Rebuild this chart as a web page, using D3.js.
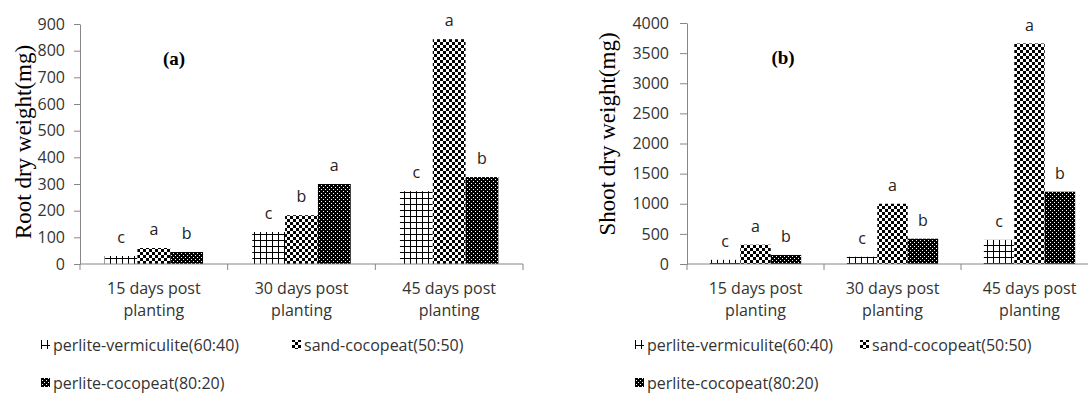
<!DOCTYPE html>
<html>
<head>
<meta charset="utf-8">
<script src="https://cdn.jsdelivr.net/npm/d3@7"></script>
<style>
  body { margin: 0; background: #fff; }
  svg { display: block; overflow: hidden; }
</style>
</head>
<body>
<svg id="chart" width="1088" height="395" font-family="'Open Sans', sans-serif"></svg>
<script>
const categories = ['15 days post|planting', '30 days post|planting', '45 days post|planting'];
const series = ['perlite-vermiculite(60:40)', 'sand-cocopeat(50:50)', 'perlite-cocopeat(80:20)'];

// values per series, one per category
const rootValues = [[30, 120, 273], [60, 183, 843], [45, 300, 326]];
const rootLetters = [['c', 'c', 'c'], ['a', 'b', 'a'], ['b', 'a', 'b']];
const rootTicks = [0, 100, 200, 300, 400, 500, 600, 700, 800, 900];

const shootValues = [[70, 120, 400], [320, 1000, 3660], [150, 420, 1200]];
const shootLetters = [['c', 'c', 'c'], ['a', 'a', 'a'], ['b', 'b', 'b']];
const shootTicks = [0, 500, 1000, 1500, 2000, 2500, 3000, 3500, 4000];

const serif = "'Liberation Serif', 'Times New Roman', serif";
const sans = "'Open Sans', sans-serif";

const svg = d3.select('#chart');
const defs = svg.append('defs');

// grid pattern
const pGrid = defs.append('pattern').attr('id', 'pat0')
    .attr('patternUnits', 'userSpaceOnUse').attr('width', 6).attr('height', 6);
pGrid.append('rect').attr('width', 6).attr('height', 6).attr('fill', '#fff');
pGrid.append('rect').attr('x', 0).attr('y', 0).attr('width', 1).attr('height', 6).attr('fill', '#000');
pGrid.append('rect').attr('x', 0).attr('y', 0).attr('width', 6).attr('height', 1).attr('fill', '#000');

// checkerboard pattern
const pCheck = defs.append('pattern').attr('id', 'pat1')
    .attr('patternUnits', 'userSpaceOnUse').attr('width', 6).attr('height', 6);
pCheck.append('rect').attr('width', 6).attr('height', 6).attr('fill', '#fff');
pCheck.append('rect').attr('x', 0).attr('y', 0).attr('width', 3).attr('height', 3).attr('fill', '#000');
pCheck.append('rect').attr('x', 3).attr('y', 3).attr('width', 3).attr('height', 3).attr('fill', '#000');

// dark dotted pattern
const pDot = defs.append('pattern').attr('id', 'pat2')
    .attr('patternUnits', 'userSpaceOnUse').attr('width', 4).attr('height', 4);
pDot.append('rect').attr('width', 4).attr('height', 4).attr('fill', '#000');
pDot.append('rect').attr('x', 1).attr('y', 1).attr('width', 1).attr('height', 1).attr('fill', '#fff');
pDot.append('rect').attr('x', 3).attr('y', 3).attr('width', 1).attr('height', 1).attr('fill', '#fff');

const fills = ['url(#pat0)', 'url(#pat1)', 'url(#pat2)'];

function drawPanel(opts) {
    const g = svg.append('g').attr('transform', `translate(${opts.left},${opts.top})`);
    const w = opts.width, h = opts.height;

    const x = d3.scaleBand().domain(categories).range([0, w])
        .paddingInner(1 / 3).paddingOuter(1 / 6);
    const x1 = d3.scaleBand().domain(d3.range(series.length)).range([0, x.bandwidth()]);
    const y = d3.scaleLinear().domain([0, opts.max]).range([h, 0]);

    // bars + letters
    series.forEach((s, si) => {
        g.selectAll(null)
            .data(opts.values[si])
            .join('rect')
                .attr('x', (d, i) => x(categories[i]) + x1(si))
                .attr('y', d => y(d))
                .attr('width', x1.bandwidth())
                .attr('height', d => h - y(d))
                .attr('fill', fills[si]);

        g.selectAll(null)
            .data(opts.values[si])
            .join('text')
                .attr('x', (d, i) => x(categories[i]) + x1(si) + x1.bandwidth() / 2)
                .attr('y', d => y(d) - 13)
                .attr('text-anchor', 'middle')
                .attr('font-size', 16)
                .attr('fill', '#222')
                .text((d, i) => opts.letters[si][i]);
    });

    // y axis
    const yAxis = g.append('g')
        .call(d3.axisLeft(y).tickValues(opts.ticks).tickFormat(d3.format('d'))
            .tickSize(opts.tickSize).tickPadding(opts.tickPad).tickSizeOuter(0));
    yAxis.select('.domain').attr('stroke', '#868686');
    yAxis.selectAll('.tick line').attr('stroke', '#868686');
    yAxis.selectAll('.tick text').attr('font-size', 16).attr('fill', '#333')
        .attr('font-family', sans);

    // x axis line and boundary ticks
    g.append('line').attr('x1', 0).attr('x2', w).attr('y1', h).attr('y2', h)
        .attr('stroke', '#868686');
    g.selectAll(null)
        .data(d3.range(categories.length + 1))
        .join('line')
            .attr('x1', i => i * x.step()).attr('x2', i => i * x.step())
            .attr('y1', h).attr('y2', h + 6)
            .attr('stroke', '#868686');

    const catText = g.selectAll(null)
        .data(categories)
        .join('text')
            .attr('text-anchor', 'middle')
            .attr('font-size', 16)
            .attr('fill', '#333');
    catText.each(function (d) {
        const lines = d.split('|');
        const cx = x(d) + x.bandwidth() / 2;
        lines.forEach((ln, li) => {
            d3.select(this).append('tspan')
                .attr('x', cx)
                .attr('y', h + 30 + li * 22)
                .text(ln);
        });
    });

    // y title
    g.append('text')
        .attr('transform', `translate(${opts.titleX},${opts.titleY}) rotate(-90)`)
        .attr('text-anchor', 'middle')
        .attr('dominant-baseline', 'central')
        .attr('font-family', serif)
        .attr('font-size', 23)
        .attr('fill', '#000')
        .text(opts.yTitle);

    // panel letter
    g.append('text')
        .attr('x', opts.tagX).attr('y', 34)
        .attr('text-anchor', 'middle')
        .attr('dominant-baseline', 'central')
        .attr('font-family', serif)
        .attr('font-weight', 'bold')
        .attr('font-size', 19)
        .attr('fill', '#000')
        .text(opts.tag);

    // legend
    const legend = svg.append('g');
    legend.selectAll(null)
        .data(opts.legendPos)
        .join('g')
            .attr('transform', d => `translate(${d[0]},${d[1]})`)
            .each(function (d, i) {
                const lg = d3.select(this);
                lg.append('rect').attr('x', 0).attr('y', -5).attr('width', 9).attr('height', 9)
                    .attr('fill', fills[i]);
                lg.append('text').attr('x', 12).attr('y', 0)
                    .attr('dominant-baseline', 'central')
                    .attr('font-size', 16)
                    .attr('fill', '#333')
                    .text(series[i]);
            });
}

drawPanel({
    left: 80, top: 24, width: 443, height: 240,
    max: 900, ticks: rootTicks, values: rootValues, letters: rootLetters,
    tickSize: 6, tickPad: 9,
    yTitle: 'Root dry weight(mg)', titleX: -57, titleY: 118,
    tag: '(a)', tagX: 94,
    legendPos: [[41, 345], [292, 345], [41, 383]]
});

drawPanel({
    left: 687, top: 23, width: 411, height: 241,
    max: 4000, ticks: shootTicks, values: shootValues, letters: shootLetters,
    tickSize: 7, tickPad: 11,
    yTitle: 'Shoot dry weight(mg)', titleX: -80, titleY: 111,
    tag: '(b)', tagX: 96,
    legendPos: [[635, 345], [860, 345], [635, 383]]
});
</script>
</body>
</html>
